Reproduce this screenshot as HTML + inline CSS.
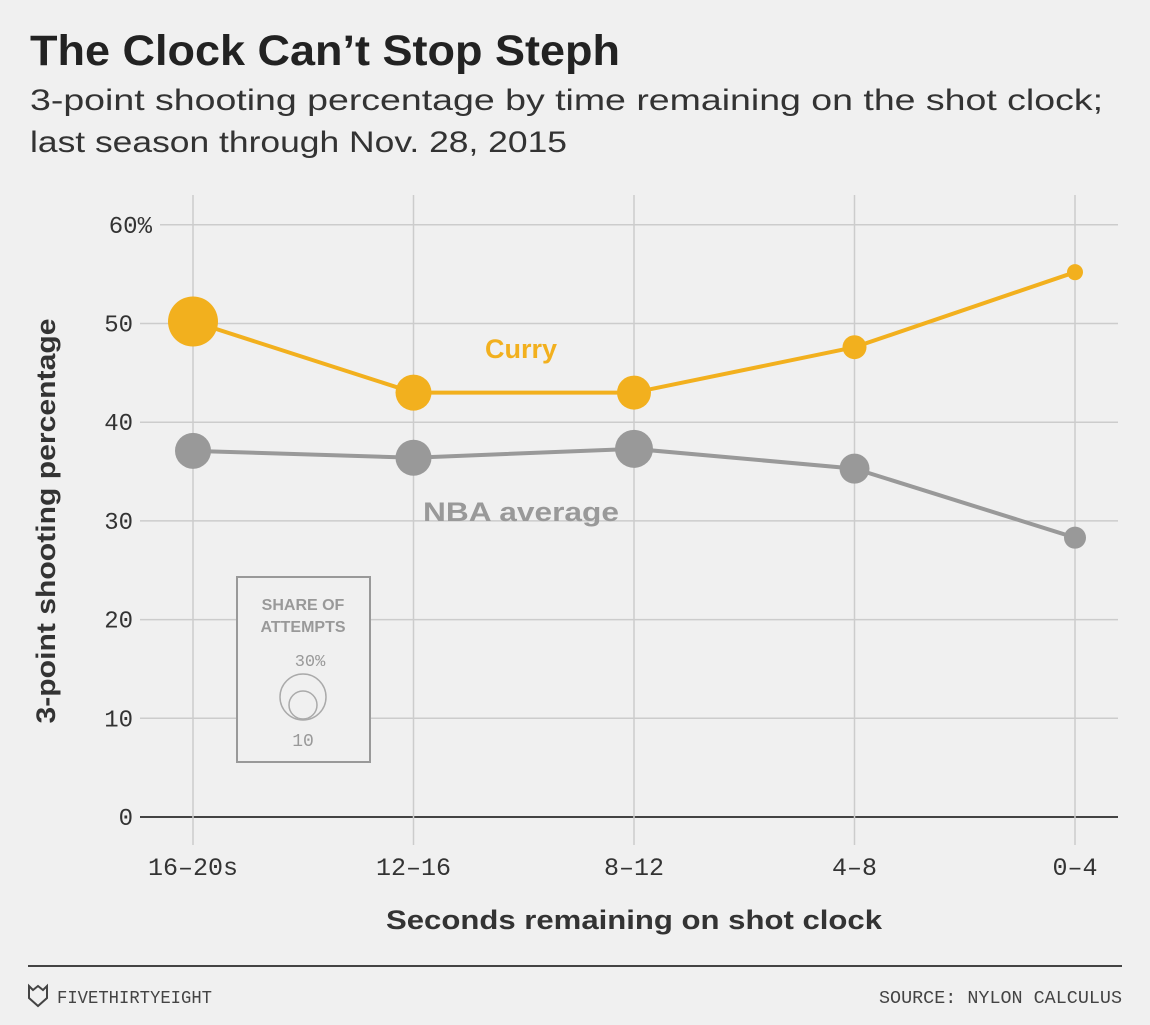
<!DOCTYPE html>
<html><head><meta charset="utf-8"><style>
body{margin:0;background:#f0f0f0;width:1150px;height:1020px;overflow:hidden;font-family:"Liberation Sans",sans-serif;}
</style></head><body>
<svg width="1150" height="1020" xmlns="http://www.w3.org/2000/svg">
<rect width="1150" height="1020" fill="#f0f0f0"/>
<text x="30" y="65" font-size="43" font-weight="bold" fill="#222" textLength="590" lengthAdjust="spacingAndGlyphs">The Clock Can’t Stop Steph</text>
<text x="30" y="110" font-size="30" fill="#333" textLength="1073" lengthAdjust="spacingAndGlyphs">3-point shooting percentage by time remaining on the shot clock;</text>
<text x="30" y="152" font-size="30" fill="#333" textLength="537" lengthAdjust="spacingAndGlyphs">last season through Nov. 28, 2015</text>
<g id="grid"></g>
<g id="axes"></g>
<g id="legend">
<rect x="237" y="577" width="133" height="185" fill="#f0f0f0" stroke="#999" stroke-width="2"/>
<text x="303" y="610" font-size="16" font-weight="bold" fill="#999" text-anchor="middle">SHARE OF</text>
<text x="303" y="632" font-size="16" font-weight="bold" fill="#999" text-anchor="middle">ATTEMPTS</text>
<text x="310" y="666" font-size="17" fill="#999" text-anchor="middle" font-family="Liberation Mono, monospace">30%</text>
<circle cx="303" cy="697" r="23" fill="none" stroke="#aaa" stroke-width="1.5"/>
<circle cx="303" cy="705" r="14" fill="none" stroke="#aaa" stroke-width="1.5"/>
<text x="303" y="746" font-size="18" fill="#999" text-anchor="middle" font-family="Liberation Mono, monospace">10</text>
</g>
<g id="series"></g>
<text x="521" y="358" font-size="27" font-weight="bold" fill="#f2b01e" text-anchor="middle">Curry</text>
<text x="521" y="521" font-size="27" font-weight="bold" fill="#999" text-anchor="middle" textLength="196" lengthAdjust="spacingAndGlyphs">NBA average</text>
<text x="634" y="929" font-size="27" font-weight="bold" fill="#333" text-anchor="middle" textLength="496" lengthAdjust="spacingAndGlyphs">Seconds remaining on shot clock</text>
<text transform="translate(55,521) rotate(-90)" font-size="27" font-weight="bold" fill="#333" text-anchor="middle" textLength="405" lengthAdjust="spacingAndGlyphs">3-point shooting percentage</text>
<line x1="28" y1="966" x2="1122" y2="966" stroke="#444" stroke-width="2"/>
<path d="M29 986 L33 990 L38 986 L43 990 L47 986 L47 998 L38 1006 L29 998 Z" fill="none" stroke="#444" stroke-width="2"/>
<text x="57" y="1003" font-size="18" fill="#444" font-family="Liberation Mono, monospace" textLength="155" lengthAdjust="spacingAndGlyphs">FIVETHIRTYEIGHT</text>
<text x="1122" y="1003" font-size="18" fill="#444" text-anchor="end" font-family="Liberation Mono, monospace" textLength="243" lengthAdjust="spacingAndGlyphs">SOURCE: NYLON CALCULUS</text>
</svg>
<script>
const categories=["16–20s","12–16","8–12","4–8","0–4"];
const curryValues=[50.2,43.0,43.0,47.6,55.2];
const currySizes=[25,18,17,12,8];
const nbaValues=[37.1,36.4,37.3,35.3,28.3];
const nbaSizes=[18,18,19,15,11];
const yTicks=[0,10,20,30,40,50,60];
const yTickLabels=["0","10","20","30","40","50","60%"];
const NS="http://www.w3.org/2000/svg";
function x(i){return 193+i*220.5;}
function y(v){return 817-v*9.87;}
function mk(tag,attrs,parent){const e=document.createElementNS(NS,tag);for(const k in attrs)e.setAttribute(k,attrs[k]);parent.appendChild(e);return e;}
const grid=document.getElementById('grid'),axes=document.getElementById('axes'),series=document.getElementById('series');
yTicks.forEach((t,i)=>{
 const last=i===yTicks.length-1;
 const l=mk('line',{x1:last?160:140,x2:1118,y1:y(t),y2:y(t),stroke:t===0?'#444':'#ccc','stroke-width':t===0?2:1.5},grid);
 
 
 const tx=mk('text',{x:last?152:133,y:y(t)+8,'font-size':24,fill:'#333','text-anchor':'end','font-family':'Liberation Mono, monospace'},axes);
 tx.textContent=yTickLabels[i];
 
 
});
categories.forEach((c,i)=>{
 const l=mk('line',{x1:x(i),x2:x(i),y1:195,y2:845,stroke:'#ccc','stroke-width':1.5},grid);
 
 
 const tx=mk('text',{x:x(i),y:875,'font-size':25,fill:'#333','text-anchor':'middle','font-family':'Liberation Mono, monospace'},axes);
 tx.textContent=c;
 
 
});
function drawSeries(vals,sizes,color,name){
 const p=mk('polyline',{points:vals.map((v,i)=>x(i)+','+y(v)).join(' '),fill:'none',stroke:color,'stroke-width':4},series);
 
 
 vals.forEach((v,i)=>{
  const c=mk('circle',{cx:x(i),cy:y(v),r:sizes[i],fill:color},series);
  
  
 });
}
drawSeries(nbaValues,nbaSizes,'#999','nba-average');
drawSeries(curryValues,currySizes,'#f2b01e','curry');
</script>
</body></html>
